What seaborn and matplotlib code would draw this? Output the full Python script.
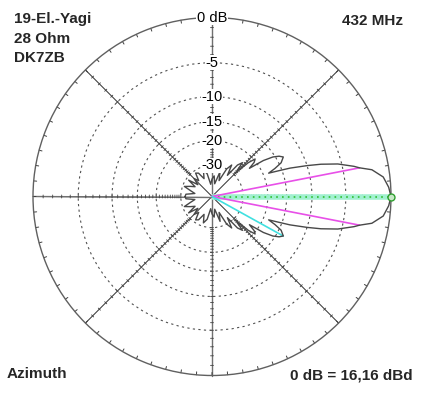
import numpy as np
import pandas as pd
import matplotlib
matplotlib.use("Agg")
import matplotlib.pyplot as plt
import seaborn as sns

sns.set_style("white")
plt.rcParams['font.family'] = ['Liberation Sans', 'DejaVu Sans']

# half pattern (deg, dB), the other half is the mirror image
half_angles = [0, 3, 6.5, 9.5, 11, 12, 14.5, 16.5, 18, 20,
               21, 22.4, 24, 26, 29, 31, 33, 35, 37, 39,
               41, 43, 45, 48, 51, 54, 58, 62, 66, 72,
               78, 84, 90, 96, 102, 108, 114, 120, 125, 130,
               135, 140, 145, 150, 155, 160, 165, 170, 175, 180]
half_gain = [0, -0.2, -0.65, -1.7, -3.0, -3.6, -5.5, -7.8, -10.0, -13.2,
             -15.5, -18.4, -16.4, -14.5, -13.5, -14.2, -15.5, -18, -23, -20.5,
             -19.6, -22, -29, -23.5, -25.5, -33, -27, -30, -40, -33,
             -45, -37, -40, -46, -35, -32, -38, -32.5, -31.5, -37,
             -33.5, -39, -31.5, -38, -34.5, -31, -36, -40, -33, -32.5]

ring_db = [0, -5, -10, -15, -20, -30]
ring_labels = ['0 dB', '-5', '-10', '-15', '-20', '-30']

beam_angles = [11, -11]       # -3 dB points
beam_db = [-3.0, -3.0]
sidelobe_angle = -29
sidelobe_db = -13.5


def arrl(db):
    # ARRL log scale: 0.89 per 2 dB
    return 0.89 ** (-np.asarray(db, dtype=float) / 2.0)


angles = [-a for a in half_angles[::-1]] + half_angles[1:]
gains = half_gain[::-1] + half_gain[1:]
df = pd.DataFrame({'theta': np.deg2rad(angles), 'r': arrl(gains)})

W, H = 423, 394
fig = plt.figure(figsize=(W / 100, H / 100), dpi=100)
fig.patch.set_facecolor('white')
cx, cy, R = 212, 196.5, 179
ax = fig.add_axes([(cx - R) / W, (H - cy - R) / H, 2 * R / W, 2 * R / H], projection='polar')
ax.set_ylim(0, 1)

# grid: dotted rings, solid spokes every 45 deg
ax.set_yticks(arrl(ring_db[1:]))
ax.set_yticklabels([])
ax.set_xticks(np.deg2rad(np.arange(0, 360, 45)))
ax.set_xticklabels([])
ax.yaxis.grid(True, color='#505050', lw=0.8, ls=(0, (2, 3)))
ax.xaxis.grid(True, color='#303030', lw=0.7, ls='-')
ax.spines['polar'].set_color('#606060')
ax.spines['polar'].set_linewidth(1)

# main axes a bit heavier
for a in [0, 90, 180, 270]:
    ax.plot([np.deg2rad(a)] * 2, [0, 1], color='#707070', lw=1.0, zorder=2)

# small ticks on spokes, one per dB
h = 1.5 / R
tx, ty = [], []
for a in np.deg2rad(np.arange(0, 360, 45)):
    for k in range(1, 31):
        r = float(arrl(-k))
        d = np.arctan(h / r)
        rr = np.hypot(r, h)
        tx += [a - d, a + d, np.nan]
        ty += [rr, rr, np.nan]
ax.plot(tx, ty, color='#404040', lw=0.6, zorder=2)

# ticks on outer circle every 5 deg
ox, oy = [], []
for a in np.deg2rad(np.arange(0, 360, 5)):
    ox += [a, a, np.nan]
    oy += [1.0, 1 - 3.0 / R, np.nan]
ax.plot(ox, oy, color='#404040', lw=0.7, zorder=2)

# main beam marker line
ax.plot([0, 0], [0, 1], color='#a0f0d0', lw=4, solid_capstyle='butt', zorder=3)
ax.plot([0, 0], [0, 1], color='#30c030', lw=1.2, ls=(0, (1, 2.5)), zorder=3)

# -3 dB lines and side lobe line
for a, g in zip(beam_angles, beam_db):
    ax.plot([np.deg2rad(a)] * 2, [0, float(arrl(g))], color='#e850e8', lw=1.2, zorder=4)
ax.plot([np.deg2rad(sidelobe_angle)] * 2, [0, float(arrl(sidelobe_db))], color='#40e0e0', lw=1.2, zorder=4)

sns.lineplot(data=df, x='theta', y='r', sort=False, estimator=None,
             color='#484848', lw=1, ax=ax, zorder=5)
for ln in ax.lines:
    ln.set_clip_on(False)
ax.plot([0], [1], 'o', ms=5, mfc='#c8e8c8', mec='#30a030', mew=1, zorder=6, clip_on=False)
ax.set_xlabel('')
ax.set_ylabel('')

for db, lab in zip(ring_db, ring_labels):
    ax.text(np.pi / 2, float(arrl(db)), lab, ha='center', va='center', fontsize=10.5,
            color='black', zorder=10,
            bbox=dict(facecolor='white', edgecolor='none', pad=0.3))


def px(x, y):
    return x / W, 1 - y / H


fs = 11
fig.text(*px(14, 23.5), '19-El.-Yagi', fontsize=fs, fontweight='bold', va='baseline')
fig.text(*px(14, 43), '28 Ohm', fontsize=fs, fontweight='bold', va='baseline')
fig.text(*px(14, 61.5), 'DK7ZB', fontsize=fs, fontweight='bold', va='baseline')
fig.text(*px(403, 25), '432 MHz', fontsize=fs, fontweight='bold', va='baseline', ha='right')
fig.text(*px(7, 378), 'Azimuth', fontsize=fs, fontweight='bold', va='baseline')
fig.text(*px(413, 379), '0 dB = 16,16 dBd', fontsize=fs, fontweight='bold', va='baseline', ha='right')

fig.savefig('out.png', dpi=100, facecolor='white')
